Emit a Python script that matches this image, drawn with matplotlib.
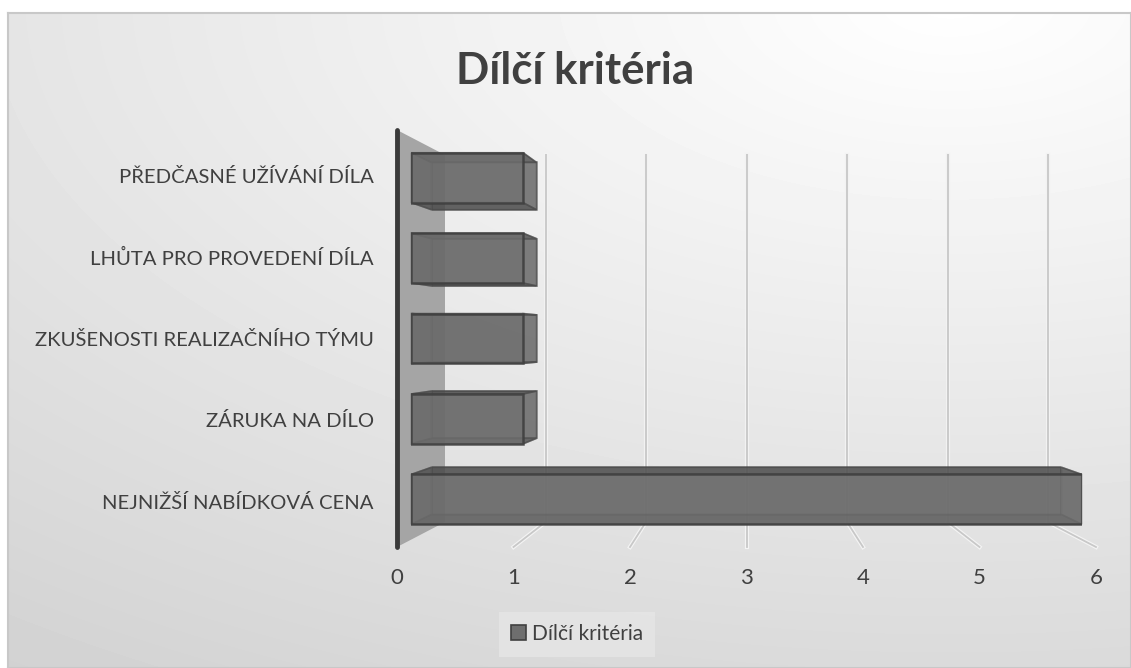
import numpy as np
import matplotlib
matplotlib.use('Agg')
import matplotlib.pyplot as plt
from matplotlib.patches import Polygon, Patch

title = "Dílčí kritéria"
series_name = "Dílčí kritéria"
categories = ["NEJNIŽŠÍ NABÍDKOVÁ CENA", "ZÁRUKA NA DÍLO", "ZKUŠENOSTI REALIZAČNÍHO TÝMU",
              "LHŮTA PRO PROVEDENÍ DÍLA", "PŘEDČASNÉ UŽÍVÁNÍ DÍLA"]
values = [6, 1, 1, 1, 1]
x_ticks = [0, 1, 2, 3, 4, 5, 6]

plt.rcParams['font.family'] = ['Lato', 'DejaVu Sans']
TXT = '#404040'

W, H = 1131, 668
fig = plt.figure(figsize=(W / 100, H / 100), dpi=100)

# chart area background (soft grey gradient, light at the top right)
bg = fig.add_axes([8 / W, 0, 1 - 8 / W, 1 - 13 / H])
yy, xx = np.mgrid[13:H, 8:W]
shade = 255 - np.sqrt((0.028 * (xx - 950)) ** 2 + (0.055 * yy) ** 2)
shade = np.clip(shade, 205, 255) / 255
bg.imshow(shade, cmap='gray', vmin=0, vmax=1, aspect='auto', extent=[0, 1, 0, 1])
bg.set_xticks([])
bg.set_yticks([])
for s in bg.spines.values():
    s.set_color('#c8c8c8')
    s.set_linewidth(1.5)


# one axes per depth plane: f=0 front of the plot box, f=1 back wall
def plane(f):
    left = 397 + 48 * f
    width = (116.5 - 16 * f) * (x_ticks[-1] - x_ticks[0])
    top = 130 + 25 * f
    bottom = 547 - 25 * f
    ax = fig.add_axes([left / W, 1 - bottom / H, width / W, (bottom - top) / H])
    ax.set_xlim(x_ticks[0], x_ticks[-1])
    ax.set_ylim(-0.5, len(categories) - 0.5)
    ax.patch.set_visible(False)
    for s in ax.spines.values():
        s.set_visible(False)
    ax.set_xticks([])
    ax.set_yticks([])
    return ax


def fpt(ax, x, y):
    return fig.transFigure.inverted().transform(ax.transData.transform((x, y)))


back = plane(1.0)
front = plane(0.0)
ylo, yhi = -0.5, len(categories) - 0.5

# side wall
wall = [fpt(front, 0, yhi), fpt(back, 0, yhi), fpt(back, 0, ylo), fpt(front, 0, ylo)]
back.add_patch(Polygon(wall, closed=True, fc='#a5a5a5', ec='none',
                       transform=fig.transFigure, clip_on=False, zorder=1))

# gridlines on back wall + floor lines
for v in x_ticks[1:]:
    back.plot([v, v], [ylo, yhi], color='#f4f4f4', lw=3, zorder=0.5, clip_on=False)
    back.plot([v, v], [ylo, yhi], color='#cbcbcb', lw=1.5, zorder=0.6, clip_on=False)
    p0, p1 = fpt(back, v, ylo), fpt(front, v, ylo)
    back.plot([p0[0], p1[0]], [p0[1], p1[1]], color='#f4f4f4', lw=3,
              transform=fig.transFigure, clip_on=False, zorder=0.5)
    back.plot([p0[0], p1[0]], [p0[1], p1[1]], color='#c8c8c8', lw=1.3,
              transform=fig.transFigure, clip_on=False, zorder=0.6)

# front edge of the wall
front.plot([0, 0], [ylo, yhi], color='#3a3a3a', lw=3.5, solid_capstyle='round', clip_on=False)

# 3D bars: back face, side faces, front face
bar_back = plane(0.72)
bar_front = plane(0.3)
bh = 0.62
ypos = np.arange(len(categories))

bar_back.barh(ypos, values, height=bh, color='#5a5a5a', alpha=0.55,
              edgecolor='#4a4a4a', linewidth=1.2)
for y, v in zip(ypos, values):
    lo, hi = y - bh / 2, y + bh / 2
    for yv in (lo, hi):
        pts = [fpt(bar_back, 0, yv), fpt(bar_back, v, yv),
               fpt(bar_front, v, yv), fpt(bar_front, 0, yv)]
        bar_back.add_patch(Polygon(pts, closed=True, fc='#4a4a4a', alpha=0.7, ec='#4a4a4a', lw=1.2,
                                   transform=fig.transFigure, clip_on=False))
    for xv in (0, v):
        pts = [fpt(bar_back, xv, lo), fpt(bar_back, xv, hi),
               fpt(bar_front, xv, hi), fpt(bar_front, xv, lo)]
        bar_back.add_patch(Polygon(pts, closed=True, fc='#555555', alpha=0.45, ec='#4a4a4a', lw=1.2,
                                   transform=fig.transFigure, clip_on=False))

bar_front.barh(ypos, values, height=bh, color='#6c6c6c', alpha=0.85,
               edgecolor='#3e3e3e', linewidth=1.8, label=series_name)

# tick labels
front.set_xticks(x_ticks)
front.set_xticklabels([str(t) for t in x_ticks])
front.tick_params(axis='x', length=0, pad=15, labelsize=16, labelcolor=TXT)

lab = plane(0.2)
lab.set_yticks(ypos)
lab.set_yticklabels(categories)
lab.tick_params(axis='y', length=0, pad=23.5, labelsize=14.6, labelcolor=TXT)

fig.text(575 / W, 1 - 71 / H, title, ha='center', va='center',
         fontsize=31.5, fontweight='bold', color=TXT)

fig.legend(handles=[Patch(fc='#6e6e6e', ec='#404040', lw=1.2)], labels=[series_name],
           loc='center', bbox_to_anchor=(577 / W, 1 - 634 / H), frameon=True,
           facecolor='#e6e6e6', edgecolor='none', fancybox=False, fontsize=15,
           handlelength=0.7, handleheight=0.7, handletextpad=0.3, borderpad=0.6,
           labelcolor=TXT)

fig.savefig('out.png', dpi=100)
